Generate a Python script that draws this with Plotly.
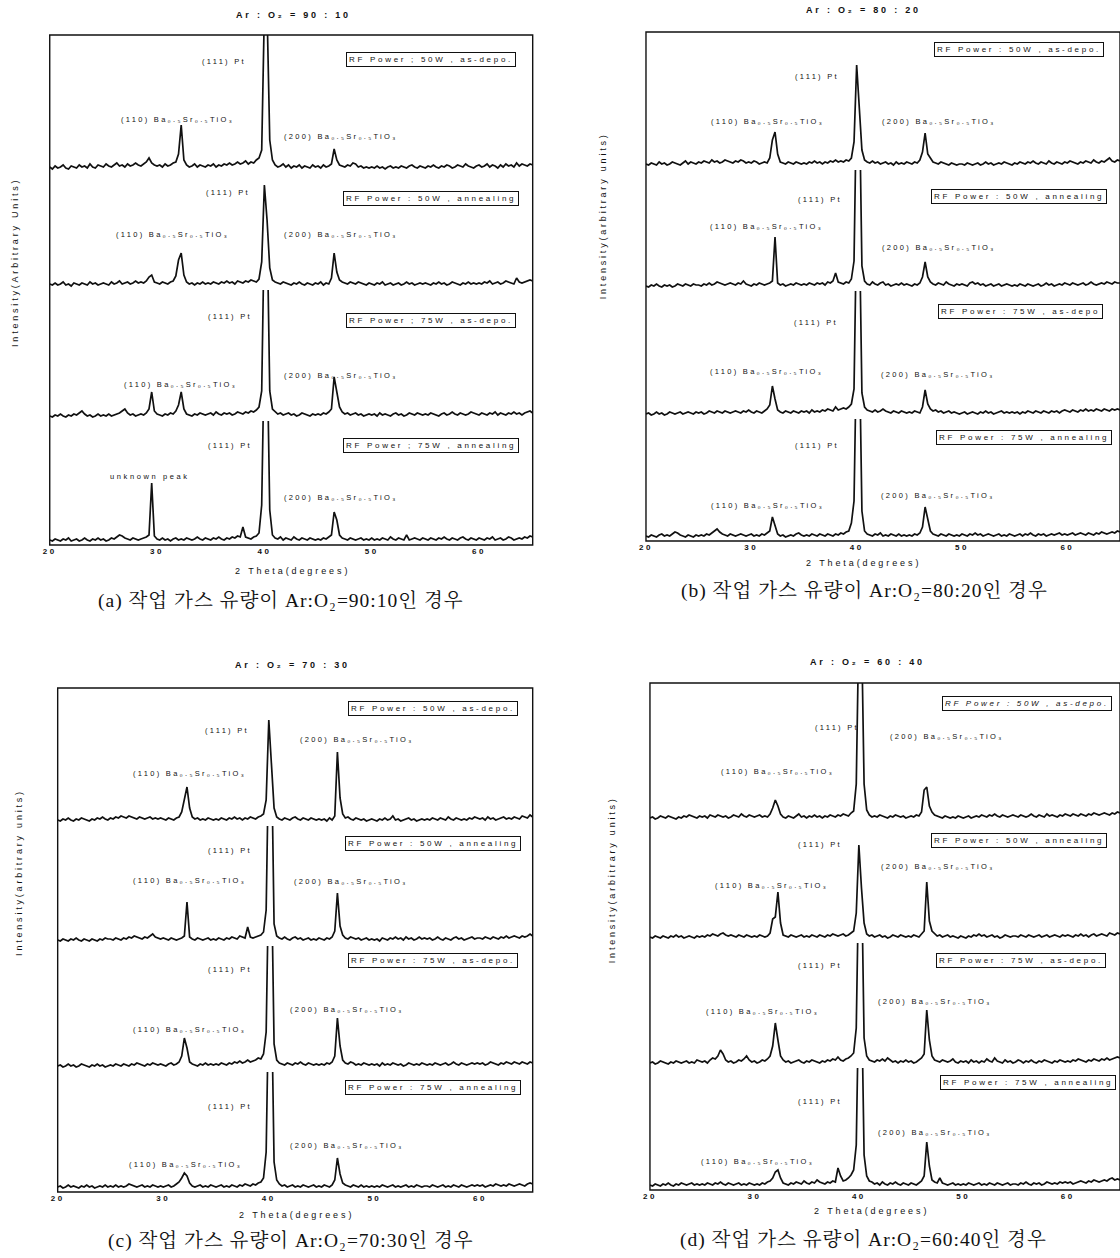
import plotly.graph_objects as go

FIG_W, FIG_H = 1120, 1258

# 2-theta sampling (degrees)
two_theta = [round(20 + 0.25 * i, 2) for i in range(181)]

# ---------------- (a) Ar:O2 = 90:10 ----------------
a_50w_depo = [
    13,11,14,12,13,15,12,11,14,13,12,15,13,14,12,16,13,12,15,14,
    13,16,14,13,15,17,14,15,13,16,14,15,17,15,14,16,18,22,17,15,
    14,15,13,16,14,15,17,18,26,55,20,15,13,14,16,13,15,14,13,15,
    14,16,13,15,14,16,15,17,15,16,18,16,17,19,16,18,17,20,22,30,
    170,170,40,20,15,13,14,16,13,15,12,14,13,15,12,14,13,12,15,13,
    14,12,15,13,14,16,31,20,15,14,13,15,14,17,16,13,14,12,13,12,
    13,12,14,12,13,11,13,14,12,13,12,14,13,12,14,15,13,12,14,13,
    12,14,13,15,13,12,14,13,15,14,12,13,15,14,13,16,14,13,12,14,
    15,13,14,16,13,15,14,12,15,13,16,14,15,13,17,14,16,15,14,16,
    15]
a_50w_anneal = [
    6,5,7,5,6,8,5,6,4,7,6,5,7,6,5,8,6,7,5,6,
    7,6,5,8,6,7,9,6,7,8,6,7,9,7,8,7,9,13,15,8,
    7,6,8,7,6,8,9,14,30,37,15,8,6,7,5,7,6,8,6,7,
    6,8,7,6,8,7,9,7,8,6,9,8,7,9,8,10,9,8,11,28,
    105,70,22,10,8,7,6,8,7,6,5,7,6,8,6,5,7,6,5,7,
    6,8,5,7,6,12,37,18,10,8,7,6,8,7,6,8,7,6,5,7,
    6,5,7,6,8,5,6,7,5,6,7,5,6,8,6,7,5,6,7,6,
    7,6,5,7,6,8,6,7,5,6,8,7,6,5,7,6,8,6,7,6,
    7,6,8,7,9,6,7,8,6,7,9,8,7,6,12,8,7,8,9,10,
    9]
a_75w_depo = [
    5,4,6,5,7,5,4,6,5,7,6,8,10,7,5,6,4,5,7,5,
    6,5,7,5,6,7,8,10,12,8,6,7,5,6,7,6,8,12,29,10,
    7,6,5,7,6,8,7,10,16,29,12,7,6,5,7,6,8,7,6,7,
    8,6,9,7,6,8,7,8,6,7,9,8,7,9,8,10,9,11,14,30,
    200,200,30,12,9,7,8,6,7,8,6,7,5,6,8,7,6,5,7,6,
    7,6,8,7,9,12,44,30,14,9,7,8,6,7,8,6,7,5,6,7,
    6,7,5,8,6,7,6,5,7,8,6,7,5,6,8,7,6,8,7,6,
    7,6,8,7,6,5,7,8,6,7,9,7,6,8,7,6,7,9,8,7,
    6,8,7,6,8,7,9,6,8,7,6,8,7,9,7,8,6,8,9,10,
    8]
a_75w_anneal = [
    5,4,6,5,4,6,5,7,4,5,6,4,5,7,5,4,6,5,7,5,
    6,4,5,7,6,8,10,9,7,6,5,7,6,5,6,7,8,10,62,9,
    6,5,7,5,6,4,6,7,5,6,5,7,6,5,6,8,6,5,7,6,
    5,7,6,8,6,5,7,6,8,7,9,8,18,8,7,6,8,9,12,40,
    200,200,35,10,7,6,8,5,7,6,5,8,6,5,7,6,5,7,6,5,
    6,5,7,6,8,10,33,25,10,7,6,5,7,6,5,6,7,5,6,5,
    7,5,6,5,7,6,5,8,6,5,7,6,5,10,5,6,7,6,5,7,
    6,5,7,6,5,7,6,8,6,5,7,6,5,7,8,6,5,7,6,5,
    7,6,5,7,6,8,5,6,7,5,6,8,7,5,6,7,6,8,7,9,
    8]

# ---------------- (b) Ar:O2 = 80:20 ----------------
b_50w_depo = [
    6,5,7,6,5,8,6,7,5,6,8,7,6,5,7,9,6,8,7,6,
    8,7,9,8,7,10,8,9,7,8,10,9,8,7,9,8,10,9,7,8,
    7,9,8,6,7,8,7,12,30,38,16,8,7,6,8,7,6,8,7,6,
    7,6,8,7,9,7,8,6,8,7,9,8,10,8,9,8,10,9,12,28,
    105,62,20,10,8,7,9,7,8,6,7,8,6,7,5,8,6,7,6,8,
    7,6,8,7,10,18,37,16,12,8,7,6,8,7,6,5,7,6,5,6,
    6,5,7,6,5,6,7,5,6,8,6,7,5,6,7,6,8,7,6,5,
    7,6,8,7,6,8,7,9,7,6,8,7,6,9,7,6,8,7,6,8,
    7,9,8,7,6,8,7,9,8,7,10,8,7,9,8,10,12,9,8,10,
    9]
b_50w_anneal = [
    5,4,6,5,7,5,4,6,5,6,4,5,7,6,5,7,6,5,7,6,
    6,5,7,6,8,6,7,9,8,7,6,7,8,7,6,8,7,10,7,6,
    5,7,6,8,7,6,7,8,10,54,8,6,7,5,6,7,6,8,7,6,
    7,6,8,7,6,8,7,8,6,9,8,10,18,9,8,7,9,8,12,30,
    200,200,25,10,7,6,9,7,6,8,9,6,7,5,6,7,6,8,6,7,
    6,5,7,6,8,14,29,14,9,7,6,8,7,6,9,7,6,5,7,6,
    7,6,5,8,9,7,8,6,7,5,6,7,5,6,7,5,6,7,6,5,
    6,5,7,6,5,7,6,5,6,7,5,6,8,6,7,5,6,7,6,8,
    7,6,8,7,6,7,8,6,7,9,7,6,7,8,7,9,8,7,9,8,
    8]
b_75w_depo = [
    5,6,4,5,7,5,6,4,5,7,6,5,6,7,5,6,7,6,5,7,
    6,7,5,6,8,7,6,8,7,6,8,7,6,7,8,7,6,8,7,9,
    7,6,8,7,6,8,10,14,33,20,9,7,6,8,7,6,8,7,6,8,
    7,8,6,9,7,8,7,9,8,10,9,8,12,9,10,11,10,12,15,30,
    200,200,26,12,9,8,7,9,7,8,10,8,7,6,8,7,6,8,7,6,
    7,6,8,7,6,12,29,15,10,8,9,7,8,6,7,8,6,7,6,5,
    6,7,5,6,7,6,5,7,6,8,6,7,5,6,7,8,6,7,6,7,
    6,7,5,7,6,8,7,6,8,7,6,8,7,6,8,7,8,6,8,9,
    8,7,9,8,7,9,8,10,8,9,8,10,9,8,10,9,8,10,9,10,
    9]
b_75w_anneal = [
    5,4,6,5,4,6,7,5,6,5,7,9,8,6,5,4,6,5,4,6,
    5,6,5,7,6,8,10,12,9,7,6,5,7,6,5,6,7,6,5,6,
    7,5,6,5,7,6,8,10,24,16,7,5,6,4,5,6,5,7,8,6,
    5,6,5,7,6,5,7,6,5,7,6,5,7,6,8,7,9,10,18,40,
    200,200,30,10,7,6,5,7,6,8,5,6,5,7,6,5,7,5,6,5,
    6,5,7,6,8,14,34,22,10,7,6,5,7,6,5,7,6,5,6,5,
    7,6,5,7,6,8,6,7,5,6,7,6,5,6,7,5,6,5,7,6,
    5,6,7,5,7,6,8,6,5,7,6,7,5,6,7,6,7,8,6,7,
    6,7,8,6,7,8,7,6,8,7,6,8,7,9,8,7,8,9,8,10,
    9]

# ---------------- (c) Ar:O2 = 70:30 ----------------
c_50w_depo = [
    6,5,7,6,8,6,5,7,6,8,7,6,5,7,6,8,7,9,7,6,
    8,7,9,8,10,9,8,10,9,8,7,9,8,7,8,9,7,8,7,8,
    7,6,8,7,6,8,9,14,28,39,18,9,7,8,6,7,6,8,7,6,
    7,6,8,7,6,8,7,9,7,8,6,8,7,9,8,7,9,10,12,26,
    106,60,18,9,7,6,8,7,6,8,9,7,6,8,7,6,8,7,6,7,
    6,7,5,8,6,10,74,28,12,8,9,7,6,8,7,6,7,5,6,7,
    6,5,7,6,8,6,7,10,6,7,5,6,7,8,6,7,5,6,7,6,
    7,6,8,7,6,8,7,6,9,7,6,8,7,6,7,6,8,7,9,8,
    7,8,6,9,7,8,6,7,8,9,7,8,7,9,8,7,10,9,8,11,
    9]
c_50w_anneal = [
    6,5,7,6,5,7,6,8,6,5,7,6,5,7,6,5,7,6,8,7,
    7,6,8,7,6,8,7,9,8,10,9,8,7,9,8,10,12,9,8,7,
    8,7,6,8,7,6,7,8,10,44,9,7,6,8,7,6,7,8,6,7,
    6,8,7,6,8,7,9,8,7,10,9,8,19,9,8,9,10,11,14,36,
    200,200,22,10,8,7,9,7,6,8,9,7,8,6,7,8,6,7,6,8,
    7,6,8,7,9,15,53,20,11,8,7,9,8,7,8,6,7,8,6,7,
    6,7,5,8,7,6,8,7,9,7,8,6,9,7,8,6,7,9,7,8,
    7,8,6,7,9,7,6,8,7,6,8,9,7,8,6,7,8,9,7,8,
    8,7,9,8,7,9,8,7,9,8,10,8,9,10,9,8,10,9,10,12,
    10]
c_75w_depo = [
    6,7,5,6,8,6,7,5,6,8,7,6,5,7,6,8,6,7,5,6,
    7,6,8,7,6,8,7,6,8,7,9,8,7,6,8,7,9,8,7,8,
    7,6,8,9,7,8,10,16,34,24,10,8,7,6,8,7,9,7,8,7,
    8,7,9,8,7,9,8,10,9,11,9,10,12,10,11,12,14,13,18,40,
    200,200,28,12,9,8,7,9,8,7,9,8,10,8,7,9,8,7,8,7,
    8,7,9,8,10,16,54,26,12,9,8,10,9,7,8,7,9,8,7,8,
    7,8,6,9,7,8,7,9,8,7,8,6,7,9,8,7,8,7,9,8,
    7,8,7,9,8,7,8,9,7,8,10,8,7,9,8,7,8,9,8,9,
    8,9,7,8,10,9,8,7,9,8,10,9,8,10,9,8,10,9,8,10,
    9]
c_75w_anneal = [
    5,6,4,5,7,5,6,5,4,6,5,7,5,6,4,5,6,5,7,5,
    6,5,7,5,6,5,6,8,7,6,5,6,7,5,6,5,7,6,5,6,
    5,6,7,5,6,8,10,14,19,16,9,6,5,6,7,5,6,5,7,6,
    5,6,7,5,6,5,7,6,5,7,6,8,7,6,8,7,9,10,14,40,
    200,200,30,12,8,6,7,5,6,7,5,6,5,7,6,5,6,7,5,6,
    5,7,6,5,7,12,34,18,9,7,6,5,7,6,5,7,5,6,5,6,
    5,6,5,7,6,5,6,7,5,6,5,6,7,5,6,5,7,6,5,6,
    6,5,7,6,5,6,7,5,6,5,7,6,5,7,6,5,6,7,6,7,
    6,7,5,6,7,6,8,7,6,7,6,8,7,6,7,8,7,6,8,9,
    8]

# ---------------- (d) Ar:O2 = 60:40 ----------------
d_50w_depo = [
    6,7,5,6,8,7,6,8,7,6,5,7,6,8,7,9,8,7,6,8,
    7,8,6,9,8,7,9,8,7,8,6,7,9,8,7,10,8,7,9,8,
    7,8,9,7,8,7,10,16,24,18,10,7,6,8,7,6,8,10,7,8,
    6,8,7,9,7,8,6,8,7,9,8,7,9,8,10,9,8,11,13,40,
    200,200,40,14,9,7,8,7,9,8,7,6,8,7,9,8,7,8,6,7,
    8,7,9,8,12,34,37,18,12,9,8,7,6,8,7,6,7,6,8,7,
    6,7,8,6,7,8,7,9,8,7,9,8,10,8,7,9,8,7,8,9,
    8,7,9,8,7,8,10,8,7,9,8,7,10,8,9,8,7,9,8,10,
    9,8,10,9,8,10,9,8,10,9,11,10,9,10,11,10,9,11,10,12,
    11]
d_50w_anneal = [
    6,5,7,6,5,7,6,5,7,6,8,6,7,5,6,7,6,5,7,6,
    7,6,8,7,9,8,7,9,10,8,7,8,7,6,8,7,6,8,7,6,
    7,6,8,7,6,7,10,24,26,51,20,8,7,6,8,7,6,7,8,6,
    7,6,8,7,6,8,7,6,8,7,9,8,7,8,9,7,8,10,12,30,
    98,55,20,9,7,8,6,7,8,6,7,5,6,8,7,6,8,7,6,7,
    6,8,7,6,9,12,61,22,12,9,7,8,6,7,8,6,7,6,5,7,
    6,5,7,6,8,7,9,7,8,6,7,8,6,7,5,6,8,7,6,7,
    7,6,8,7,6,8,7,6,7,8,6,7,8,6,7,8,7,6,8,7,
    8,7,6,8,7,9,7,8,6,8,9,7,8,9,8,7,10,9,8,10,
    9]
d_75w_depo = [
    5,6,4,5,7,6,5,4,6,5,7,6,5,6,7,5,6,5,8,7,
    6,7,5,8,10,9,12,18,14,8,6,7,5,6,8,7,9,12,8,6,
    7,5,6,8,7,9,12,22,45,28,12,8,6,7,5,6,7,8,6,5,
    7,6,8,7,6,5,7,6,8,7,9,8,11,8,7,9,10,12,15,40,
    200,200,30,12,8,7,6,8,7,9,7,10,8,6,7,5,7,6,8,6,
    7,5,6,8,10,14,58,28,12,8,7,6,8,7,6,7,9,6,5,7,
    6,7,5,8,6,7,5,7,6,9,7,6,10,7,6,5,8,6,7,5,
    6,8,7,5,7,6,8,6,5,7,6,8,7,6,5,7,6,8,7,6,
    7,6,8,7,9,8,7,6,8,7,9,8,7,9,8,10,8,9,10,11,
    10]
d_75w_anneal = [
    5,4,6,5,4,6,5,7,5,4,6,5,7,6,5,6,7,5,6,5,
    6,5,7,6,5,7,6,8,6,5,7,6,5,6,7,5,6,5,7,6,
    5,6,5,7,6,8,9,12,18,20,12,7,6,5,7,6,8,7,6,9,
    7,6,8,7,10,8,7,6,8,7,9,8,22,14,9,10,12,15,20,45,
    200,200,35,14,9,8,6,7,5,8,6,5,7,6,8,6,5,7,6,5,
    7,6,5,7,9,14,48,24,10,8,7,12,7,6,5,6,7,5,6,5,
    6,5,7,6,5,6,7,5,6,5,7,6,5,7,6,5,6,7,5,6,
    6,5,7,6,8,6,5,7,6,7,5,6,8,7,6,7,6,8,7,8,
    7,8,6,7,8,9,8,7,9,8,10,9,8,9,10,9,11,12,10,11,
    10]

x_ticks = [20, 30, 40, 50, 60]

PT = "(111) Pt"
BST110 = "(110) Ba₀.₅Sr₀.₅TiO₃"
BST200 = "(200) Ba₀.₅Sr₀.₅TiO₃"

# Panel layout (pixel positions on the page)
panels = [
    dict(title="Ar : O₂ = 90 : 10", title_xy=(288, 15),
         left=43, right=529, bands=[35, 180, 290, 421, 545],
         ytitle="Intensity(Arbitrary Units)", ytitle_xy=(8, 262),
         xtitle_xy=(287, 571),
         caption="(a) 작업 가스 유량이 Ar:O₂=90:10인 경우", caption_xy=(276, 601),
         series=[a_50w_depo, a_50w_anneal, a_75w_depo, a_75w_anneal],
         conds=["RF Power ; 50W , as-depo.", "RF Power : 50W , annealing",
                "RF Power ; 75W , as-depo.", "RF Power ; 75W , annealing"],
         cond_xy=[(427, 60), (427, 198), (427, 320), (427, 446)],
         pt_xy=[(218, 61), (222, 193), (224, 317), (224, 445)],
         l110_xy=[(172, 120), (167, 234), (175, 384), None],
         l200_xy=[(336, 137), (336, 234), (336, 376), (336, 497)],
         extra=[((144, 477), "unknown peak")]),
    dict(title="Ar : O₂ = 80 : 20", title_xy=(862, 10),
         left=643, right=1120, bands=[32, 170, 291, 419, 541],
         ytitle="Intensity(arbitrary units)", ytitle_xy=(600, 216),
         xtitle_xy=(862, 563),
         caption="(b) 작업 가스 유량이 Ar:O₂=80:20인 경우", caption_xy=(863, 591),
         series=[b_50w_depo, b_50w_anneal, b_75w_depo, b_75w_anneal],
         conds=["RF Power : 50W , as-depo.", "RF Power : 50W , annealing",
                "RF Power : 75W , as-depo", "RF Power : 75W , annealing"],
         cond_xy=[(1018, 50), (1018, 197), (1020, 311), (1023, 438)],
         pt_xy=[(815, 77), (818, 199), (814, 322), (815, 446)],
         l110_xy=[(765, 121), (764, 226), (764, 372), (765, 505)],
         l200_xy=[(938, 121), (938, 248), (937, 374), (937, 495)],
         extra=[]),
    dict(title="Ar : O₂ = 70 : 30", title_xy=(287, 665),
         left=51, right=529, bands=[688, 826, 946, 1072, 1192],
         ytitle="Intensity(arbitrary units)", ytitle_xy=(12, 872),
         xtitle_xy=(291, 1215),
         caption="(c) 작업 가스 유량이 Ar:O₂=70:30인 경우", caption_xy=(286, 1241),
         series=[c_50w_depo, c_50w_anneal, c_75w_depo, c_75w_anneal],
         conds=["RF Power : 50W , as-depo.", "RF Power : 50W , annealing",
                "RF Power : 75W , as-depo.", "RF Power : 75W , annealing"],
         cond_xy=[(429, 708), (429, 843), (429, 960), (429, 1087)],
         pt_xy=[(221, 731), (224, 850), (224, 969), (224, 1106)],
         l110_xy=[(184, 773), (184, 880), (184, 1029), (180, 1164)],
         l200_xy=[(352, 739), (346, 881), (342, 1009), (342, 1145)],
         extra=[]),
    dict(title="Ar : O₂ = 60 : 40", title_xy=(866, 662),
         left=647, right=1120, bands=[683, 824, 943, 1068, 1190],
         ytitle="Intensity(arbitrary units)", ytitle_xy=(609, 880),
         xtitle_xy=(870, 1211),
         caption="(d) 작업 가스 유량이 Ar:O₂=60:40인 경우", caption_xy=(862, 1240),
         series=[d_50w_depo, d_50w_anneal, d_75w_depo, d_75w_anneal],
         conds=["<i>RF Power : 50W , as-depo.</i>", "RF Power : 50W , annealing",
                "RF Power : 75W , as-depo.", "RF Power : 75W , annealing"],
         cond_xy=[(1026, 703), (1018, 840), (1020, 960), (1027, 1082)],
         pt_xy=[(835, 727), (818, 844), (818, 966), (818, 1101)],
         l110_xy=[(775, 771), (769, 885), (760, 1011), (755, 1161)],
         l200_xy=[(946, 736), (937, 866), (934, 1001), (934, 1132)],
         extra=[]),
]

for p in panels:
    for s in p["series"]:
        assert len(s) == len(two_theta), [len(q) for q in p["series"]]


def px(x):
    return x / FIG_W


def py(y):
    return 1 - y / FIG_H


def spaced(text, ls):
    return f'<span style="letter-spacing:{ls}px">{text}</span>'


SANS = "Liberation Sans, Arial, DejaVu Sans, sans-serif"
INK = "#111111"

fig = go.Figure()
layout = dict(
    width=FIG_W, height=FIG_H,
    margin=dict(l=0, r=0, t=0, b=0),
    paper_bgcolor="white", plot_bgcolor="rgba(0,0,0,0)",
    showlegend=False,
)
annotations = []
shapes = []


def label(x, y, text, size, ls, **kw):
    d = dict(
        x=px(x), y=py(y), xref="paper", yref="paper",
        text=spaced(text, ls), showarrow=False,
        font=dict(family=SANS, size=size, color=INK),
        xanchor="center", yanchor="middle",
    )
    d.update(kw)
    annotations.append(d)


n = 0
for p in panels:
    bands = p["bands"]
    for k, ys in enumerate(p["series"]):
        n += 1
        top, bottom = bands[k], bands[k + 1]
        xa = "xaxis" if n == 1 else f"xaxis{n}"
        ya = "yaxis" if n == 1 else f"yaxis{n}"
        is_bottom = k == 3
        layout[xa] = dict(
            domain=[px(p["left"]), px(p["right"])],
            anchor=f"y{n}" if n > 1 else "y",
            range=[20, 65], showgrid=False, zeroline=False, showline=False,
            ticks="", showticklabels=is_bottom,
            tickvals=x_ticks,
            ticktext=[f"<b>{spaced(str(t), 2.5)}</b>" for t in x_ticks],
            tickfont=dict(family=SANS, size=8, color=INK),
            fixedrange=True,
        )
        layout[ya] = dict(
            domain=[py(bottom), py(top)],
            anchor=f"x{n}" if n > 1 else "x",
            range=[0, bottom - top], visible=False, fixedrange=True,
        )
        fig.add_trace(go.Scatter(
            x=two_theta, y=ys, mode="lines",
            line=dict(color=INK, width=1.7),
            xaxis=f"x{n}" if n > 1 else "x", yaxis=f"y{n}" if n > 1 else "y",
            hoverinfo="skip",
        ))

        # condition box
        cx, cy = p["cond_xy"][k]
        label(cx, cy, p["conds"][k], 8, 2.7,
              bordercolor=INK, borderwidth=1, borderpad=2, bgcolor="white")
        for key, txt in (("pt_xy", PT), ("l110_xy", BST110), ("l200_xy", BST200)):
            pos = p[key][k]
            if pos is None:
                continue
            label(pos[0], pos[1], txt, 7.5, 2.3)

    for pos, txt in p["extra"]:
        label(pos[0], pos[1], txt, 7.5, 2.6)

    # panel frame
    shapes.append(dict(
        type="rect", xref="paper", yref="paper",
        x0=px(p["left"]), x1=px(p["right"]), y0=py(bands[-1]), y1=py(bands[0]),
        line=dict(color=INK, width=1.4),
    ))

    # title, axis titles and caption
    tx, ty = p["title_xy"]
    label(tx, ty, f"<b>{p['title']}</b>", 9, 2.8)
    xx, xy = p["xtitle_xy"]
    label(xx, xy, "2 Theta(degrees)", 9, 2.9)
    yx, yy = p["ytitle_xy"]
    label(yx, yy, p["ytitle"], 9, 2.8, textangle=-90)
    cx, cy = p["caption_xy"]
    annotations.append(dict(
        x=px(cx), y=py(cy), xref="paper", yref="paper",
        text=spaced(p["caption"], 1), showarrow=False,
        font=dict(family="Liberation Serif, Noto Serif CJK KR, Noto Sans CJK KR",
                  size=19.5, color=INK),
        xanchor="center", yanchor="middle",
    ))

layout["annotations"] = annotations
layout["shapes"] = shapes
fig.update_layout(**layout)
fig.write_html("out.html")
